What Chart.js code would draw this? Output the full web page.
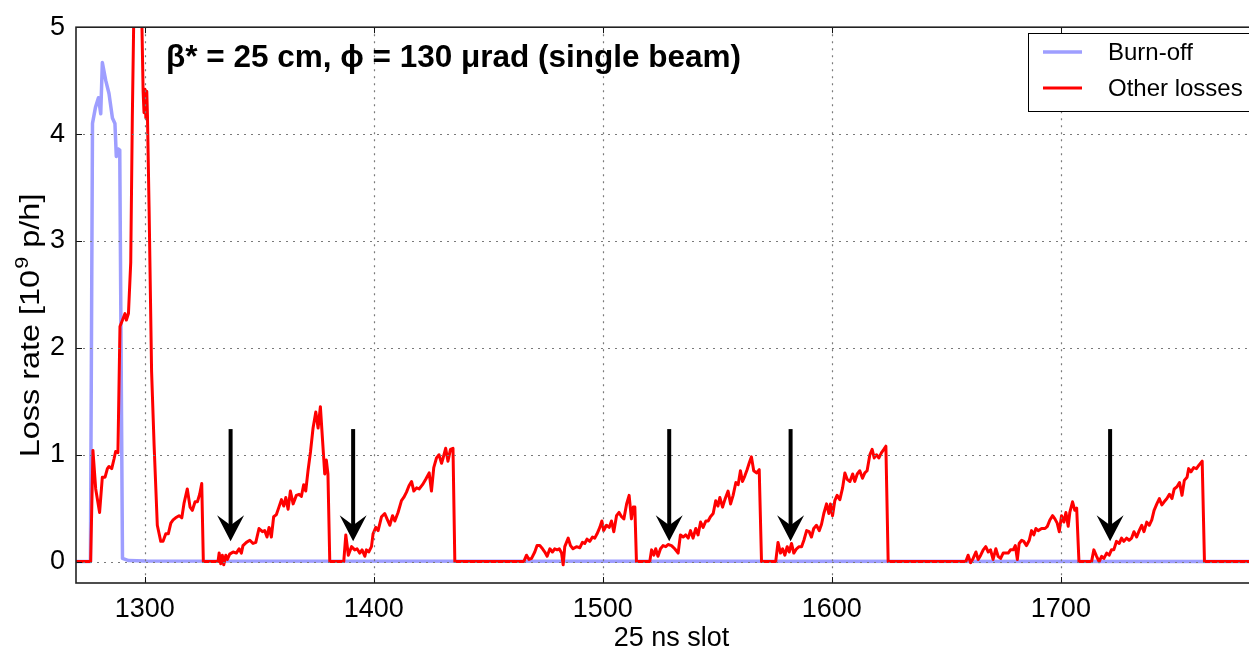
<!DOCTYPE html>
<html><head><meta charset="utf-8">
<script src="https://cdn.jsdelivr.net/npm/chart.js@4.4.0/dist/chart.umd.min.js"></script>
<style>html,body{margin:0;padding:0;background:#fff;overflow:hidden;width:1249px;height:650px}canvas{display:block}</style>
</head><body><canvas id="c" width="1290" height="650" style="width:1290px;height:650px"></canvas>
<script>
// ---------- data ----------
const xTicks = [1300, 1400, 1500, 1600, 1700];
const yTicks = [0, 1, 2, 3, 4, 5];
const xRange = [1270, 1790];
const yRange = [-0.2, 5];
const seriesNames = ['Burn-off', 'Other losses'];
const titleText = 'β* = 25 cm, ϕ = 130 μrad (single beam)';
const xLabel = '25 ns slot';
const yLabelParts = ['Loss rate [10', '9', ' p/h]'];

// [slot, loss rate]
const burnOffData = [
  [1270,0],[1276.3,0],[1277.2,4.10],[1278.5,4.25],[1279.8,4.34],[1280.8,4.19],[1281.5,4.67],
  [1283,4.50],[1284.4,4.38],[1285.9,4.15],[1287,4.10],[1287.6,3.79],[1288.5,3.86],[1289.1,3.85],
  [1290.3,0.03],[1293,0.01],[1300,0.005],[1790,0]
];
const otherLossesData = [
  [1270,0],[1276.4,0],[1277.4,1.04],[1278.6,0.68],[1280.3,0.46],[1281.5,0.79],[1282.7,0.79],[1283.7,0.87],
  [1284.4,0.89],[1285.6,0.87],[1286.6,0.96],[1287.3,1.03],[1288.3,1.02],[1289.2,2.20],[1290.3,2.26],
  [1291.4,2.32],[1292.0,2.26],[1292.9,2.32],[1293.9,2.8],[1294.6,4.17],[1295.3,5.2],[1296.5,6.4],
  [1298.0,6.0],[1298.8,5.0],[1299.3,4.4],[1299.7,4.2],[1300.1,4.42],[1300.5,4.15],[1300.9,4.4],
  [1301.2,4.17],[1301.9,3.32],[1303.0,1.78],[1304.1,1.09],[1305.5,0.34],[1307,0.19],[1308,0.19],
  [1309.2,0.26],[1310.3,0.26],[1311.4,0.36],[1312.4,0.39],[1313.5,0.41],[1315,0.43],[1316.2,0.41],
  [1317.2,0.55],[1318.6,0.68],[1319.8,0.51],[1320.8,0.48],[1322,0.56],[1323,0.56],[1324,0.63],
  [1324.9,0.73],[1325.6,0],
  [1332,0],[1332.5,0.08],[1333.2,-0.02],[1333.9,0.06],[1334.5,-0.03],[1335.4,0.06],[1336.1,0.02],
  [1337.1,0.07],[1338.6,0.09],[1340,0.08],[1341.2,0.12],[1342.2,0.08],[1342.9,0.15],[1344.4,0.18],
  [1345.9,0.2],[1347.3,0.17],[1348.5,0.18],[1349.9,0.31],[1351.4,0.28],[1352.4,0.29],[1353.4,0.23],
  [1354.3,0.32],[1355.3,0.23],[1356.3,0.42],[1357.5,0.44],[1358.6,0.51],[1359.7,0.58],[1360.7,0.52],
  [1361.6,0.6],[1362.6,0.49],[1363.6,0.66],[1364.8,0.54],[1366.2,0.62],[1367.4,0.63],[1368.4,0.61],
  [1369.4,0.72],[1370.3,0.66],[1371.3,0.85],[1372.4,1.03],[1373.5,1.25],[1374.7,1.40],[1375.7,1.25],
  [1376.7,1.45],[1377.6,1.15],[1378.6,0.82],[1379.3,0.95],[1380,0.82],[1380.8,0],
  [1386.9,0],[1387.8,0.25],[1388.9,0.06],[1390.3,0.14],[1391.7,0.11],[1392.7,0.12],[1393.9,0.08],
  [1394.9,0.11],[1396.1,0.05],[1396.8,0.11],[1397.8,0.09],[1399,0.14],[1399.7,0.26],[1400.9,0.32],
  [1401.9,0.29],[1403.4,0.42],[1404.8,0.45],[1405.8,0.4],[1407,0.34],[1408.2,0.43],[1409.2,0.38],
  [1410.6,0.46],[1412.1,0.57],[1413.1,0.6],[1414.3,0.65],[1415.4,0.71],[1416.5,0.75],[1417.5,0.66],
  [1418.7,0.69],[1419.8,0.68],[1421.3,0.72],[1422.7,0.77],[1424.2,0.83],[1425.2,0.66],[1426.2,0.88],
  [1427.4,0.97],[1428.5,1.0],[1429.6,0.92],[1430.3,0.97],[1431.4,1.06],[1432.4,0.94],[1433.5,1.05],
  [1434.6,1.06],[1435.4,0],
  [1465.5,0],[1466.7,0.06],[1467.8,0.02],[1468.9,0.03],[1470.3,0.09],[1471.3,0.15],[1472.5,0.15],
  [1473.7,0.12],[1474.7,0.09],[1475.7,0.05],[1476.9,0.12],[1478,0.09],[1479,0.12],[1480.1,0.11],
  [1481,0.12],[1482,0.08],[1482.7,-0.03],[1483.4,0.14],[1484.9,0.22],[1485.9,0.15],[1487,0.12],
  [1488.5,0.14],[1490,0.13],[1491.1,0.18],[1492.1,0.17],[1493.1,0.21],[1494.3,0.19],[1495.5,0.23],
  [1496.5,0.22],[1497.5,0.26],[1498.7,0.32],[1499.6,0.38],[1500.4,0.29],[1501.6,0.34],[1502.8,0.32],
  [1503.8,0.38],[1504.8,0.28],[1506,0.43],[1507.1,0.46],[1508.2,0.42],[1509.2,0.4],[1510.4,0.54],
  [1511.5,0.62],[1512.5,0.4],[1513.3,0.51],[1514,0.51],[1514.7,0],
  [1520.5,0],[1521.3,0.11],[1522.3,0.06],[1523.1,0.12],[1524.1,0.05],[1525.2,0.12],[1526.3,0.15],
  [1527.5,0.14],[1528.5,0.16],[1530,0.15],[1531.4,0.12],[1532.9,0.08],[1533.9,0.25],[1535.1,0.23],
  [1536.2,0.25],[1537.3,0.22],[1538.3,0.29],[1539.4,0.22],[1540.6,0.31],[1541.6,0.25],[1542.7,0.37],
  [1543.8,0.32],[1545,0.38],[1546,0.38],[1547,0.42],[1548.2,0.45],[1549.3,0.57],[1550.3,0.52],
  [1551.1,0.6],[1552.3,0.51],[1553.3,0.58],[1554.7,0.66],[1555.8,0.54],[1556.9,0.62],[1558.1,0.74],
  [1559.1,0.72],[1560.1,0.85],[1561,0.75],[1562,0.8],[1563,0.86],[1563.9,0.92],[1564.9,0.98],
  [1565.9,0.85],[1567.1,0.83],[1568.3,0.86],[1569.3,0],
  [1575.5,0],[1576.5,0.18],[1577.6,0.08],[1578.5,0.12],[1579.5,0.06],[1580.5,0.14],[1581.4,0.09],
  [1582.4,0.17],[1583.4,0.08],[1584.6,0.12],[1585.7,0.14],[1586.8,0.14],[1587.8,0.2],[1589,0.29],
  [1590.1,0.28],[1591.1,0.23],[1592.1,0.31],[1593.3,0.34],[1594.5,0.29],[1595.5,0.35],[1596.5,0.45],
  [1597.7,0.54],[1598.7,0.45],[1599.4,0.54],[1600.3,0.43],[1601.3,0.57],[1602.3,0.62],[1603.5,0.58],
  [1604.7,0.69],[1605.7,0.83],[1606.7,0.77],[1607.9,0.75],[1609.1,0.82],[1610,0.75],[1611.1,0.82],
  [1612.2,0.85],[1613.4,0.78],[1614.4,0.83],[1615.4,0.85],[1616.6,1.0],[1617.6,1.05],[1618.5,0.97],
  [1619.5,1.0],[1620.5,0.97],[1621.7,1.02],[1622.7,1.05],[1623.6,1.08],[1624.6,0],
  [1658.5,0],[1659.5,0.06],[1660.6,-0.01],[1661.7,0.03],[1662.9,0.09],[1663.9,0.02],[1665,0.06],
  [1666.1,0.11],[1667.2,0.14],[1668.3,0.09],[1669.3,0.11],[1670.4,0.02],[1671.6,0.12],[1672.6,0.05],
  [1673.7,0.03],[1674.8,0.08],[1676,0.08],[1677,0.08],[1678,0.11],[1679.2,0.11],[1680.1,0.15],
  [1681,0.02],[1681.8,0.17],[1682.9,0.2],[1683.8,0.19],[1685,0.15],[1686.2,0.2],[1687.2,0.29],
  [1688.2,0.25],[1689.1,0.31],[1690.1,0.29],[1691.6,0.31],[1693.1,0.31],[1694.1,0.33],[1695.2,0.39],
  [1696.4,0.43],[1697.4,0.4],[1698.4,0.36],[1699.3,0.28],[1700.3,0.43],[1701.3,0.37],[1702.2,0.46],
  [1703.2,0.33],[1703.9,0.46],[1705.1,0.56],[1706.1,0.48],[1706.9,0.5],[1707.9,0],
  [1713.4,0],[1714.4,0.11],[1715.6,0.05],[1716.7,0],[1717.8,0.05],[1718.8,0.03],[1720,0.08],
  [1721.1,0.06],[1722.1,0.11],[1723.1,0.11],[1724.3,0.19],[1725.5,0.17],[1726.5,0.22],[1727.5,0.19],
  [1728.7,0.22],[1729.8,0.2],[1730.9,0.22],[1731.9,0.28],[1733.1,0.23],[1734.2,0.29],[1735.3,0.34],
  [1736.3,0.28],[1737.5,0.37],[1738.6,0.34],[1739.7,0.39],[1740.7,0.48],[1741.9,0.54],[1743,0.59],
  [1744.1,0.53],[1745.1,0.56],[1746.3,0.59],[1747.4,0.63],[1748.5,0.59],[1749.5,0.68],[1750.7,0.7],
  [1751.8,0.74],[1752.9,0.62],[1753.9,0.76],[1755.1,0.79],[1755.8,0.87],[1756.8,0.84],[1758,0.88],
  [1759.2,0.87],[1760.2,0.9],[1761.7,0.94],[1762.7,0],[1790,0]
];
// arrow annotations (slot positions, from/to loss rate)
const arrowSlots = [1337.5, 1391, 1529, 1582, 1721.5];
const arrowTop = 1.24, arrowTip = 0.19;

// ---------- chart ----------
const FONT = "'Liberation Sans', Arial, Helvetica, sans-serif";
Chart.defaults.font.family = FONT;
const toPts = arr => arr.map(p => ({x: p[0], y: p[1]}));

const overlay = {
  id: 'overlay',
  afterDatasetsDraw(chart) {
    const ctx = chart.ctx, a = chart.chartArea;
    const xs = chart.scales.x, ys = chart.scales.y;
    ctx.save();
    // dotted grid (above data, like the reference)
    ctx.strokeStyle = '#7a7a7a'; ctx.lineWidth = 1.2; ctx.setLineDash([2, 5]);
    xTicks.forEach(v => { const px = Math.round(xs.getPixelForValue(v)) + 0.5;
      ctx.beginPath(); ctx.moveTo(px, a.top); ctx.lineTo(px, a.bottom); ctx.stroke(); });
    yTicks.forEach(v => { const py = Math.round(ys.getPixelForValue(v)) + 0.5;
      ctx.beginPath(); ctx.moveTo(a.left, py); ctx.lineTo(a.right, py); ctx.stroke(); });
    ctx.setLineDash([]);
    // inward ticks on all sides
    ctx.strokeStyle = '#111'; ctx.lineWidth = 1;
    xTicks.forEach(v => { const px = Math.round(xs.getPixelForValue(v)) + 0.5;
      ctx.beginPath(); ctx.moveTo(px, a.bottom); ctx.lineTo(px, a.bottom - 6);
      ctx.moveTo(px, a.top); ctx.lineTo(px, a.top + 6); ctx.stroke(); });
    yTicks.forEach(v => { const py = Math.round(ys.getPixelForValue(v)) + 0.5;
      ctx.beginPath(); ctx.moveTo(a.left, py); ctx.lineTo(a.left + 6, py);
      ctx.moveTo(a.right, py); ctx.lineTo(a.right - 6, py); ctx.stroke(); });
    // frame
    ctx.strokeStyle = '#222'; ctx.lineWidth = 1.6;
    ctx.strokeRect(a.left, a.top, a.right - a.left, a.bottom - a.top);
    // arrows
    ctx.fillStyle = '#000'; ctx.strokeStyle = '#000';
    arrowSlots.forEach(s => {
      const px = xs.getPixelForValue(s);
      const yT = ys.getPixelForValue(arrowTop), yP = ys.getPixelForValue(arrowTip);
      ctx.lineWidth = 4;
      ctx.beginPath(); ctx.moveTo(px, yT); ctx.lineTo(px, yP - 14); ctx.stroke();
      ctx.beginPath(); ctx.moveTo(px, yP); ctx.lineTo(px - 13.5, yP - 26);
      ctx.quadraticCurveTo(px - 4, yP - 19, px, yP - 16);
      ctx.quadraticCurveTo(px + 4, yP - 19, px + 13.5, yP - 26); ctx.closePath(); ctx.fill();
    });
    // legend
    const lx = 1028, ly = 33, lw = 227, lh = 78;
    ctx.fillStyle = '#fff'; ctx.fillRect(lx, ly, lw, lh);
    ctx.strokeStyle = '#000'; ctx.lineWidth = 1; ctx.strokeRect(lx + 0.5, ly + 0.5, lw, lh);
    chart.data.datasets.forEach((ds, i) => {
      const yy = ly + 19 + i * 36;
      ctx.strokeStyle = ds.borderColor; ctx.lineWidth = ds.borderWidth;
      ctx.beginPath(); ctx.moveTo(lx + 15, yy); ctx.lineTo(lx + 54, yy); ctx.stroke();
      ctx.fillStyle = '#000'; ctx.font = '24px ' + FONT; ctx.textBaseline = 'middle'; ctx.textAlign = 'left';
      ctx.fillText(ds.label, lx + 80, yy + 1);
    });
    // title
    ctx.fillStyle = '#000'; ctx.font = 'bold 31.5px ' + FONT; ctx.textBaseline = 'alphabetic';
    ctx.fillText(titleText, 166, 67);
    // x label
    ctx.font = '27px ' + FONT; ctx.textAlign = 'center';
    ctx.fillText(xLabel, (a.left + a.right) / 2, 646);
    // y label with superscript (slightly stretched along its length)
    ctx.save();
    ctx.translate(39, 326); ctx.rotate(-Math.PI / 2); ctx.scale(1.2, 1);
    ctx.textAlign = 'left';
    const f1 = '27px ' + FONT, f2 = '18px ' + FONT;
    ctx.font = f1; const w1 = ctx.measureText(yLabelParts[0]).width, w3 = ctx.measureText(yLabelParts[2]).width;
    ctx.font = f2; const w2 = ctx.measureText(yLabelParts[1]).width;
    let x0 = -(w1 + w2 + w3) / 2;
    ctx.font = f1; ctx.fillText(yLabelParts[0], x0, 0);
    ctx.font = f2; ctx.fillText(yLabelParts[1], x0 + w1 + 1, -11);
    ctx.font = f1; ctx.fillText(yLabelParts[2], x0 + w1 + w2 + 1, 0);
    ctx.restore();
    ctx.restore();
  }
};

new Chart(document.getElementById('c'), {
  type: 'line',
  data: {
    datasets: [
      { label: seriesNames[0], data: toPts(burnOffData), borderColor: '#9e9eff', borderWidth: 3.5,
        pointRadius: 0, tension: 0, order: 2, borderJoinStyle: 'round' },
      { label: seriesNames[1], data: toPts(otherLossesData), borderColor: '#ff0000', borderWidth: 3,
        pointRadius: 0, tension: 0, order: 1, borderJoinStyle: 'round' }
    ]
  },
  options: {
    responsive: false, devicePixelRatio: 1, animation: false, events: [],
    layout: { padding: { top: 21, right: 23, left: 0, bottom: 0 } },
    plugins: { legend: { display: false }, tooltip: { enabled: false } },
    scales: {
      x: { type: 'linear', min: xRange[0], max: xRange[1],
        afterBuildTicks: s => { s.ticks = xTicks.map(v => ({value: v})); },
        afterFit: s => { s.height = 67; },
        grid: { display: false, drawTicks: false }, border: { display: false },
        ticks: { font: { size: 27 }, color: '#000', padding: 10, maxRotation: 0, autoSkip: false,
          callback: v => String(v) } },
      y: { type: 'linear', min: yRange[0], max: yRange[1],
        afterBuildTicks: s => { s.ticks = yTicks.map(v => ({value: v})); },
        afterFit: s => { s.width = 76; },
        grid: { display: false, drawTicks: false }, border: { display: false },
        ticks: { font: { size: 27 }, color: '#000', padding: 11, callback: v => String(v) } }
    }
  },
  plugins: [overlay]
});
</script></body></html>
